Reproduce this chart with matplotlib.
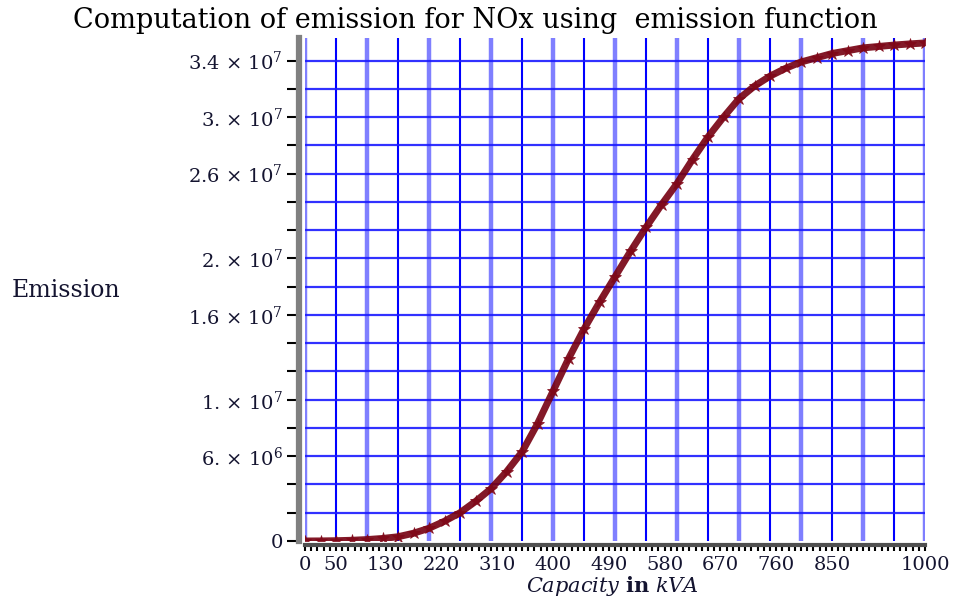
import numpy as np
import matplotlib
matplotlib.use("Agg")
import matplotlib.pyplot as plt
from matplotlib.ticker import FixedLocator, MultipleLocator

# values
capacity = [0, 25, 50, 75, 100, 125, 150, 175, 200, 225, 250, 275, 300, 325, 350,
            375, 400, 425, 450, 475, 500, 525, 550, 575, 600, 625, 650, 675, 700,
            725, 750, 775, 800, 825, 850, 875, 900, 925, 950, 975, 1000]
emission = [0.0, 0.005e6, 0.02e6, 0.05e6, 0.1e6, 0.18e6, 0.3e6, 0.55e6, 0.9e6, 1.4e6,
            2.0e6, 2.8e6, 3.7e6, 4.9e6, 6.3e6, 8.3e6, 10.6e6, 12.9e6, 15.0e6, 16.9e6,
            18.7e6, 20.5e6, 22.2e6, 23.8e6, 25.3e6, 27.0e6, 28.6e6, 30.0e6, 31.3e6,
            32.2e6, 32.9e6, 33.45e6, 33.9e6, 34.2e6, 34.5e6, 34.7e6, 34.9e6, 35.0e6,
            35.1e6, 35.18e6, 35.25e6]

x_ticks = [0, 50, 130, 220, 310, 400, 490, 580, 670, 760, 850, 1000]
y_ticks = [0, 6e6, 1e7, 1.6e7, 2e7, 2.6e7, 3e7, 3.4e7]
y_labels = ["0", r"6. $\times$ 10$^{6}$", r"1. $\times$ 10$^{7}$", r"1.6 $\times$ 10$^{7}$",
            r"2. $\times$ 10$^{7}$", r"2.6 $\times$ 10$^{7}$", r"3. $\times$ 10$^{7}$",
            r"3.4 $\times$ 10$^{7}$"]

plt.rcParams["font.family"] = "DejaVu Serif"
plt.rcParams["mathtext.fontset"] = "dejavuserif"
text_col = "#141430"

fig = plt.figure(figsize=(9.59, 5.99), dpi=100)
W, H = 959, 599
ax = fig.add_axes([305 / W, 1 - 541 / H, 620 / W, 503 / H])
ax.set_xlim(0, 1000)
ax.set_ylim(0, 3.56e7)

# grid: light thick lines at hundreds, dark thin lines in between
for xv in np.arange(0, 1001, 50):
    if xv % 100 == 0:
        ax.axvline(xv, color="#7f7fff", lw=3.2, zorder=1)
    else:
        ax.axvline(xv, color="#0000ff", lw=1.5, zorder=1)
for yv in np.arange(2e6, 3.56e7, 2e6):
    ax.axhline(yv, color="#1a1aff", lw=1.6, alpha=0.9, zorder=1)

ax.plot(capacity, emission, color="#760010", lw=5, alpha=0.9, zorder=3,
        solid_capstyle="round")
ax.plot(capacity, emission, ls="none", color="#800818", zorder=4,
        marker="*", markersize=9, markeredgewidth=0.6, alpha=0.85)

# axes styling
for side in ("top", "right"):
    ax.spines[side].set_visible(False)
ax.spines["left"].set_position(("outward", 4))
ax.spines["left"].set_color("#808080")
ax.spines["left"].set_linewidth(4.5)
ax.spines["bottom"].set_position(("outward", 3))
ax.spines["bottom"].set_color("#505050")
ax.spines["bottom"].set_linewidth(3)

ax.yaxis.set_major_locator(FixedLocator(y_ticks))
ax.set_yticklabels(y_labels, fontsize=14, color=text_col)
ax.yaxis.set_minor_locator(MultipleLocator(2e6))
ax.tick_params(axis="y", which="both", length=9, width=1.5, color="black",
               direction="out", pad=3)

ax.xaxis.set_major_locator(FixedLocator(x_ticks))
ax.set_xticklabels([str(v) for v in x_ticks], fontsize=14, color=text_col)
ax.xaxis.set_minor_locator(MultipleLocator(10))
ax.tick_params(axis="x", which="major", length=4, width=1.5, color="black", pad=4)
ax.tick_params(axis="x", which="minor", length=4, width=1.5, color="black")

fig.text(475 / W, 1 - 20 / H, "Computation of emission for NOx using  emission function",
         ha="center", va="center", fontsize=19.5, color="black")
fig.text(12 / W, 1 - 290 / H, "Emission", ha="left", va="center",
         fontsize=17, color=text_col)
fig.text(612 / W, 1 - 586 / H, r"$\it{Capacity}$ $\bf{in}$ $\it{kVA}$",
         ha="center", va="center", fontsize=15, color=text_col)

fig.savefig("out.png", dpi=100)
